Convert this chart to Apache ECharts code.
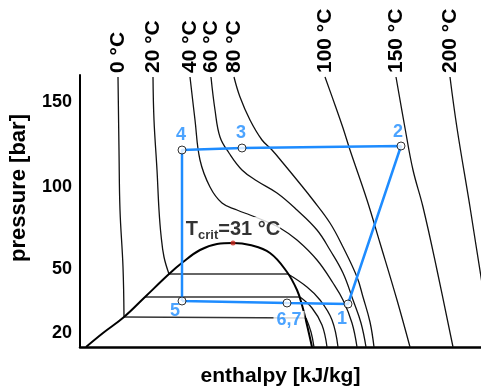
<!DOCTYPE html>
<html><head><meta charset="utf-8">
<script src="https://cdn.jsdelivr.net/npm/echarts@6/dist/echarts.min.js"></script>
<style>html,body{margin:0;padding:0;background:#fff}#c{width:481px;height:386px}</style>
</head><body><div id="c"></div>
<script>
// ---- data (schematic enthalpy units, schematic pressure units) ----
const pressureTickPos = [14, 78, 160, 245];
const pressureTickLabels = ['20', '50', '100', '150'];

const dome = [[6,0],[23,14],[44,30],[65,50],[89,73],[103,85],[120,97],[137,103],[153,104],[170,102],[190,94],[207,75],[217,57],[222,42],[227,22],[232,0]];
const criticalPoint = [153,104];

const iso0Liquid = [[38,270],[39,197],[40,137],[43,80],[44,30]];
const iso0Flat = [[44,30],[226,29]];
const iso0Vapor = [[226,29],[231,15],[234,0]];
const iso10Flat = [[65,50],[220,50]];
const iso10Vapor = [[220,50],[232,39],[242,22],[247,0]];
const iso20Liquid = [[73,270],[74,227],[77,177],[79,137],[81,112],[84,90],[89,73]];
const iso20Flat = [[89,73],[208,73]];
const iso20Vapor = [[208,73],[227,60],[240,47],[252,27],[258,0]];
const iso40 = [[110,270],[115,227],[120,187],[130,160],[142,144],[157,137],[170,132],[185,126],[200,119],[217,107],[237,87],[253,64],[263,47],[272,24],[277,0]];
const iso60 = [[131,270],[135,237],[140,210],[149,194],[162,177],[177,166],[197,154],[217,137],[237,117],[250,97],[263,74],[273,47],[281,24],[286,0]];
const iso80 = [[154,270],[160,250],[170,227],[182,207],[192,197],[203,184],[217,167],[233,147],[250,124],[263,100],[277,70],[283,50],[290,25],[294,0]];
const iso100 = [[245,270],[255,242],[263,219],[270,197],[287,147],[300,104],[317,47],[330,0]];
const iso150 = [[316,270],[325,219],[333,177],[343,140],[357,77],[373,0]];
const iso200 = [[370,270],[377,219],[390,140],[401,70],[410,17]];

const tempLabels = ['0 °C','20 °C','40 °C','60 °C','80 °C','100 °C','150 °C','200 °C'];
const tempTops = [iso0Liquid[0], iso20Liquid[0], iso40[0], iso60[0], iso80[0], iso100[0], iso150[0], iso200[0]];

const cycleNames = ['1','2','3','4','5','6,7'];
const cycleH = [268, 321, 162, 102, 102, 207];
const cycleP = [43, 201, 199, 197, 46, 44];
const cycleOrder = ['5','4','3','2','1','6,7','5'];

const tcritText = 'T_crit=31 °C';
const tcritPos = [153, 119];

// ---- chart ----
const BLUE = '#1e8cff';
const FONT = '"Liberation Sans", Arial, sans-serif';
const chart = echarts.init(document.getElementById('c'), null, {renderer: 'canvas'});

const series = [];
function addLine(data, width, color, smooth) {
  series.push({type: 'line', data: data, showSymbol: false, smooth: smooth, silent: true,
    lineStyle: {color: color, width: width}, z: 2});
}
[iso0Liquid, iso20Liquid, iso40, iso60, iso80, iso100, iso150, iso200, iso0Vapor, iso10Vapor, iso20Vapor]
  .forEach(d => addLine(d, 1.3, '#111', 0.4));
[iso0Flat, iso10Flat, iso20Flat].forEach(d => addLine(d, 1.3, '#333', false));
addLine(dome, 2, '#000', 0.4);

const idx = n => cycleNames.indexOf(n);
series.push({type: 'line', data: cycleOrder.map(n => [cycleH[idx(n)], cycleP[idx(n)]]),
  showSymbol: false, silent: true, lineStyle: {color: BLUE, width: 2.5}, z: 5});

const labelOffsets = {'1': [-6, 15], '2': [-3, -14], '3': [-1, -15], '4': [-1, -15], '5': [-7, 10], '6,7': [2, 17]};
series.push({type: 'scatter', z: 6, silent: true,
  data: cycleNames.map((n, i) => ({name: n, value: [cycleH[i], cycleP[i]],
    label: {offset: labelOffsets[n], backgroundColor: n === '6,7' ? '#fff' : 'transparent', padding: n === '6,7' ? [0, 3] : 0}})),
  symbol: 'circle', symbolSize: 8,
  itemStyle: {color: '#fff', borderColor: '#000', borderWidth: 1},
  label: {show: true, position: 'inside', formatter: p => p.name, color: BLUE,
    fontFamily: FONT, fontWeight: 'bold', fontSize: 18}
});

series.push({type: 'scatter', z: 7, silent: true, data: [criticalPoint], symbolSize: 5,
  itemStyle: {color: '#c8281e'}});

const parts = tcritText.split(/_|(?==)/);
series.push({type: 'scatter', z: 8, silent: true, data: [tcritPos], symbolSize: 0,
  label: {show: true, position: 'inside', backgroundColor: '#fff', padding: [0, 0],
    formatter: '{a|' + parts[0] + '}{b|' + parts[1] + '}{a|' + parts[2] + '}',
    rich: {a: {fontFamily: FONT, fontWeight: 'bold', fontSize: 20, color: '#000', verticalAlign: 'bottom', lineHeight: 22},
           b: {fontFamily: FONT, fontWeight: 'bold', fontSize: 13, color: '#000', verticalAlign: 'bottom', lineHeight: 14, padding: [0,0,-3,0]}}}
});

chart.setOption({
  animation: false,
  backgroundColor: '#fff',
  grid: {left: 80, right: 0, top: 75, bottom: 39, containLabel: false, outerBoundsMode: 'none'},
  xAxis: {type: 'value', min: 0, max: 401,
    name: 'enthalpy [kJ/kg]', nameLocation: 'middle', nameGap: 19,
    nameTextStyle: {fontFamily: FONT, fontWeight: 'bold', fontSize: 21, color: '#000'},
    axisLine: {show: true, lineStyle: {color: '#000', width: 2.5}},
    axisTick: {show: false}, axisLabel: {show: false}, splitLine: {show: false}},
  yAxis: {type: 'value', min: 0, max: 272,
    axisLine: {show: true, lineStyle: {color: '#000', width: 2}},
    axisTick: {show: false}, splitLine: {show: false},
    axisLabel: {show: true, customValues: pressureTickPos, margin: 8,
      formatter: v => pressureTickLabels[pressureTickPos.indexOf(Math.round(v))] || '',
      fontFamily: FONT, fontWeight: 'bold', fontSize: 18, color: '#000'}},
  series: series
});

// temperature labels at the top of each isotherm, and the y-axis title
const graphics = tempTops.map((pt, i) => {
  const px = chart.convertToPixel({gridIndex: 0}, pt);
  return {type: 'text', x: px[0], y: px[1] - 4, rotation: Math.PI / 2,
    style: {text: tempLabels[i], fontFamily: FONT, fontWeight: 'bold', fontSize: 21,
      fill: '#000', align: 'left', verticalAlign: 'middle'}};
});
graphics.push({type: 'text', x: 19, y: 188, rotation: Math.PI / 2,
  style: {text: 'pressure [bar]', fontFamily: FONT, fontWeight: 'bold', fontSize: 22,
    fill: '#000', align: 'center', verticalAlign: 'middle'}});
chart.setOption({graphic: graphics});
</script></body></html>
